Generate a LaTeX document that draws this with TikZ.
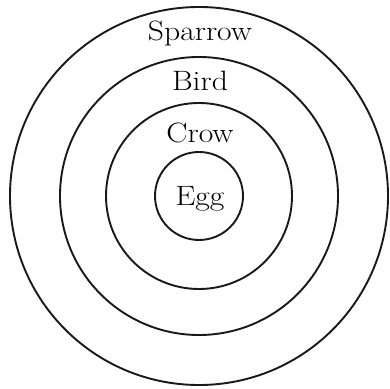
\documentclass[tikz,border=0pt]{standalone}
\usepackage{graphicx}
\tikzset{ring/.style={draw=black!90,line width=1.9pt},
lbl/.style={anchor=base,inner sep=0pt,font=\fontsize{28}{33}\selectfont}}
\newcommand{\wl}[1]{\scalebox{1.13}[1]{#1}}
\begin{document}
\begin{tikzpicture}[x=1pt,y=1pt]
\useasboundingbox (0,0) rectangle (390,388);
\coordinate (c) at (199,192);
\draw[ring] (c) circle[radius=189];
\draw[ring] (c) circle[radius=139];
\draw[ring] (c) circle[radius=93];
\draw[ring] (c) circle[radius=44];
\node[lbl] (sparrow) at (200,347) {\wl{Sparrow}};
\node[lbl] (bird) at (200,297) {\wl{Bird}};
\node[lbl] (crow) at (200,245) {\wl{Crow}};
\node[lbl] (egg) at (200,182) {\wl{Egg}};
\end{tikzpicture}
\end{document}
